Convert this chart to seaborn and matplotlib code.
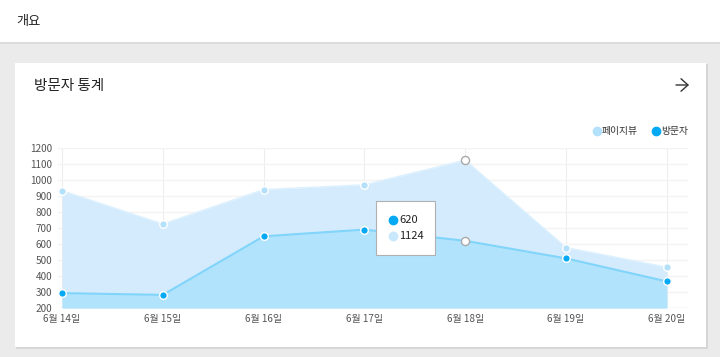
import matplotlib
matplotlib.use("Agg")
import matplotlib.pyplot as plt
import seaborn as sns
import pandas as pd
import numpy as np
from matplotlib.patches import Rectangle, FancyArrowPatch
from matplotlib.lines import Line2D

dates = ["6월 14일", "6월 15일", "6월 16일", "6월 17일", "6월 18일", "6월 19일", "6월 20일"]
pageviews = [933, 725, 940, 970, 1124, 578, 455]
visitors = [293, 282, 648, 690, 620, 510, 366]
yticks = [200, 300, 400, 500, 600, 700, 800, 900, 1000, 1100, 1200]
hover_index = 4

sns.set_theme(style="white")
plt.rcParams['font.family'] = ['Noto Sans CJK KR', 'DejaVu Sans']

df = pd.DataFrame({"pos": np.arange(len(dates)), "date": dates,
                   "pv": pageviews, "vis": visitors})

W, H = 720, 357
fig = plt.figure(figsize=(W / 100, H / 100), dpi=100)
fig.patch.set_facecolor("#ebebeb")

def fx(px):
    return px / W

def fy(py):
    return 1 - py / H

# header band
fig.add_artist(Rectangle((0, fy(42)), 1, 42 / H, transform=fig.transFigure,
                         facecolor="white", edgecolor="none", zorder=0))
fig.add_artist(Rectangle((0, fy(44)), 1, 2 / H, transform=fig.transFigure,
                         facecolor="#dcdcdc", edgecolor="none", zorder=0))
# card shadow + card
fig.add_artist(Rectangle((fx(16), fy(349)), fx(692), (349 - 64) / H, transform=fig.transFigure,
                         facecolor="#d6d6d6", edgecolor="none", zorder=0))
fig.add_artist(Rectangle((fx(15), fy(347)), fx(691), (347 - 63) / H, transform=fig.transFigure,
                         facecolor="white", edgecolor="none", zorder=0))

fig.text(fx(16), fy(21), "개요", fontsize=9.5, color="#222222", va="center", ha="left")
fig.text(fx(34), fy(86), "방문자 통계", fontsize=10.5, color="#222222", va="center", ha="left")
fig.add_artist(FancyArrowPatch((fx(676), fy(85)), (fx(689), fy(85)),
                               transform=fig.transFigure,
                               arrowstyle="->,head_length=5,head_width=4.5",
                               shrinkA=0, shrinkB=0,
                               color="#333333", linewidth=1.0, mutation_scale=1))

# legend
pv_dot = "#b3e0fb"
vis_dot = "#03a9f4"
fig.add_artist(Line2D([fx(597)], [fy(131)], marker="o", markersize=6, color=pv_dot,
                      linestyle="none", transform=fig.transFigure))
fig.text(fx(602), fy(131), "페이지뷰", fontsize=7, color="#333333", va="center", ha="left")
fig.add_artist(Line2D([fx(656)], [fy(131)], marker="o", markersize=6, color=vis_dot,
                      linestyle="none", transform=fig.transFigure))
fig.text(fx(661), fy(131), "방문자", fontsize=7, color="#333333", va="center", ha="left")

ax = fig.add_axes([fx(58), fy(308), (688 - 58) / W, (308 - 148) / H])
ax.set_facecolor("none")

pv_fill = "#d3ebfd"
vis_fill = "#b2e3fc"
vis_line = "#81d4fa"

ax.fill_between(df["pos"], 200, df["pv"], color=pv_fill, linewidth=0, zorder=1)
ax.fill_between(df["pos"], 200, df["vis"], color=vis_fill, linewidth=0, zorder=2)
sns.lineplot(data=df, x="pos", y="pv", ax=ax, color="#dcf0fe", linewidth=1.0, zorder=3)
sns.lineplot(data=df, x="pos", y="vis", ax=ax, color=vis_line, linewidth=1.5, zorder=3)

normal = df.index != hover_index
sns.scatterplot(data=df[normal], x="pos", y="pv", ax=ax, color=pv_dot, s=30,
                edgecolor="white", linewidth=1.0, zorder=5)
sns.scatterplot(data=df[normal], x="pos", y="vis", ax=ax, color=vis_dot, s=30,
                edgecolor="white", linewidth=1.0, zorder=5)
sns.scatterplot(data=df[~normal], x="pos", y="pv", ax=ax, color="white", s=34,
                edgecolor="#aaaaaa", linewidth=1.0, zorder=5)
sns.scatterplot(data=df[~normal], x="pos", y="vis", ax=ax, color="white", s=34,
                edgecolor="#aaaaaa", linewidth=1.0, zorder=5)

ax.set_xlim(-0.04, 6.21)
ax.set_ylim(200, 1200)
ax.set_yticks(yticks)
ax.set_xticks(df["pos"])
ax.set_xticklabels(dates)
ax.set_xlabel("")
ax.set_ylabel("")
for s in ax.spines.values():
    s.set_visible(False)
ax.grid(axis="y", color="#f3f3f3", linewidth=1.0, zorder=0)
ax.grid(axis="x", color="#ededed", linewidth=0.8, zorder=0)
ax.set_axisbelow(True)
ax.tick_params(axis="y", labelsize=7.2, colors="#555555", length=3, width=0.6,
               pad=1, color="#dddddd")
ax.tick_params(axis="x", labelsize=7.2, colors="#555555", length=0, pad=4)
ax.axhline(200, color="#eeeeee", linewidth=1.0, zorder=0)

# tooltip
fig.add_artist(Rectangle((fx(376), fy(255)), (435 - 376) / W, (255 - 201) / H,
                         transform=fig.transFigure, facecolor="white",
                         edgecolor="#b0b0b0", linewidth=0.8, zorder=10))
fig.add_artist(Line2D([fx(393)], [fy(220)], marker="o", markersize=6, color=vis_dot,
                      linestyle="none", transform=fig.transFigure, zorder=11))
fig.text(fx(399), fy(220), str(visitors[hover_index]), fontsize=8, color="#222222",
         va="center", ha="left", zorder=11)
fig.add_artist(Line2D([fx(393)], [fy(236)], marker="o", markersize=6, color="#c9e8fc",
                      linestyle="none", transform=fig.transFigure, zorder=11))
fig.text(fx(399), fy(236), str(pageviews[hover_index]), fontsize=8, color="#222222",
         va="center", ha="left", zorder=11)

fig.savefig("out.png", dpi=100)
